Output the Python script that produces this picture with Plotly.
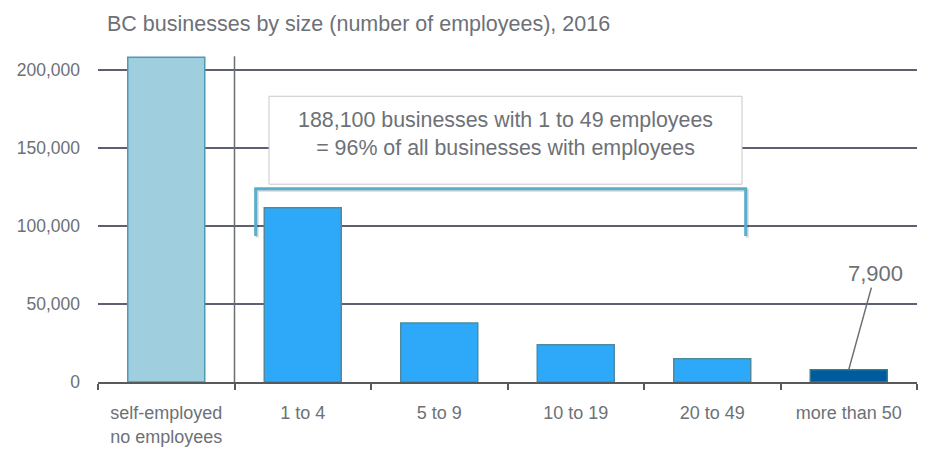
import plotly.graph_objects as go

# BC businesses by number of employees, 2016
categories = ["self-employed<br>no employees", "1 to 4", "5 to 9", "10 to 19", "20 to 49", "more than 50"]
businesses = [207900, 111600, 37700, 23900, 14900, 7900]
bar_fill = ["#9fcfdf", "#2ea9f9", "#2ea9f9", "#2ea9f9", "#2ea9f9", "#005a9e"]
bar_edge = ["#4e9ab3", "#4f8b9c", "#4f8b9c", "#4f8b9c", "#4f8b9c", "#2e7f95"]
y_ticks = [0, 50000, 100000, 150000, 200000]
y_tick_text = ["0", "50,000", "100,000", "150,000", "200,000"]

small_total = sum(businesses[1:5])
employer_total = sum(businesses[1:])
share = round(100 * small_total / employer_total)

TEXT = "#6d7177"
FONT = "Liberation Sans, Arial, sans-serif"

fig = go.Figure(
    go.Bar(
        x=categories,
        y=businesses,
        marker=dict(color=bar_fill, line=dict(color=bar_edge, width=1.5)),
        hoverinfo="x+y",
    )
)

fig.update_layout(
    width=926,
    height=452,
    margin=dict(l=98, r=9, t=54, b=70, autoexpand=False),
    paper_bgcolor="white",
    plot_bgcolor="white",
    bargap=0.436,
    showlegend=False,
    title=dict(
        text="BC businesses by size (number of employees), 2016",
        x=107 / 926,
        xref="container",
        xanchor="left",
        y=1 - 23 / 452,
        yref="container",
        yanchor="middle",
        font=dict(family=FONT, size=21.5, color=TEXT),
    ),
)

fig.update_xaxes(
    type="category",
    range=[-0.5, 5.5],
    automargin=False,
    tickangle=0,
    showline=True,
    linecolor="#58595b",
    linewidth=1.5,
    ticks="outside",
    tickson="boundaries",
    ticklen=6,
    tickcolor="#58595b",
    tickwidth=1.5,
    ticklabelstandoff=14,
    showgrid=False,
    tickfont=dict(family=FONT, size=18, color=TEXT),
)

fig.update_yaxes(
    range=[0, 210000],
    automargin=False,
    tickvals=y_ticks,
    ticktext=y_tick_text,
    showgrid=True,
    gridcolor="#5d6072",
    gridwidth=1.6,
    zeroline=False,
    showline=False,
    ticks="",
    ticklabelstandoff=17,
    tickfont=dict(family=FONT, size=17.5, color=TEXT),
)

# separator between self-employed and employer businesses
fig.add_shape(type="line", xref="x", yref="y", x0=0.5, x1=0.5, y0=0, y1=208500,
              line=dict(color="#6b6e73", width=1.5), layer="above")

# bracket spanning the 1 to 49 employee groups, with a soft drop shadow
bracket = "M {x0} {y0} L {x0} {y1} L {x1} {y1} L {x1} {y0}"
fig.add_shape(
    type="path", xref="x", yref="y",
    path=bracket.format(x0=0.666, x1=4.256, y0=92440, y1=122800),
    line=dict(color="rgba(0,0,0,0.16)", width=3), layer="above",
)
fig.add_shape(
    type="path", xref="x", yref="y",
    path=bracket.format(x0=0.655, x1=4.245, y0=93400, y1=123760),
    line=dict(color="#5aaecb", width=3), layer="above",
)

# callout box
fig.add_shape(type="rect", xref="x", yref="y", x0=0.753, x1=4.218, y0=126640, y1=182930,
              fillcolor="white", line=dict(color="#c9c9c9", width=1), layer="above")
fig.add_annotation(
    x=2.4855, y=158700, xref="x", yref="y", showarrow=False,
    text=f"{small_total:,} businesses with 1 to 49 employees<br>= {share}% of all businesses with employees",
    font=dict(family=FONT, size=21.4, color=TEXT),
    align="center",
)

# value label for the largest-size group
fig.add_annotation(
    x=5, y=businesses[5], xref="x", yref="y",
    text=f"{businesses[5]:,}",
    showarrow=True, arrowhead=0, arrowwidth=1.5, arrowcolor="#6b6e73",
    ax=26.5, ay=-96, standoff=0,
    font=dict(family=FONT, size=22, color=TEXT),
)

fig.write_html("out.html")
